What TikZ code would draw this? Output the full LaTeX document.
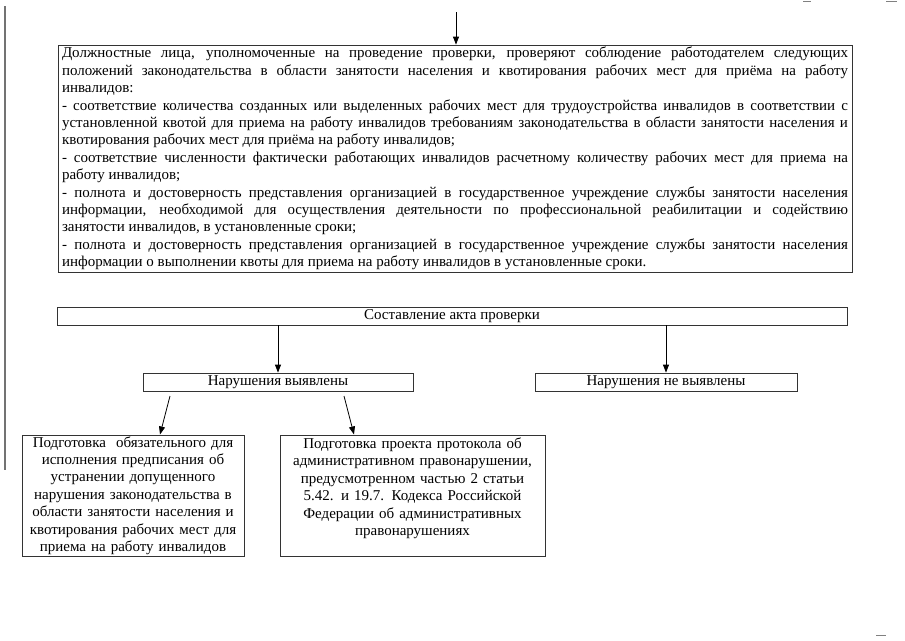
\documentclass[tikz,border=0pt]{standalone}
\usepackage{fontspec}
\setmainfont{Liberation Serif}
\usetikzlibrary{arrows.meta,calc}
\tikzset{
  box/.style={draw=black!80, line width=0.8pt, inner sep=0pt, font=\fontsize{15}{17.4}\selectfont},
  arr/.style={draw=black, line width=0.8pt, -{Triangle[length=8pt,width=6pt]}},
  scanmark/.style={draw=black!55, line width=1.6pt}
}
\begin{document}
\begin{tikzpicture}[x=1pt,y=-1pt]
\useasboundingbox (0,0) rectangle (905,640);
\fill[white] (0,0) rectangle (905,640);
% scan marks
\draw[scanmark] (5,6) -- (5,470);
\draw[draw=black!50, line width=1pt] (803,1) -- (811,1);
\draw[draw=black!50, line width=1pt] (886,1) -- (897,1);
\draw[draw=black!50, line width=1pt] (876,635) -- (886,635);

\node[box, minimum width=794pt, minimum height=227pt, text width=786pt, align=justify] (main) at (455,158.5) {%
\hyphenpenalty=10000\exhyphenpenalty=10000
Должностные лица, уполномоченные на проведение проверки, проверяют соблюдение работодателем следующих\linebreak
положений законодательства в области занятости населения и квотирования рабочих мест для приёма на работу\linebreak
инвалидов:\par
- соответствие количества созданных или выделенных  рабочих мест для трудоустройства инвалидов в соответствии с\linebreak
установленной квотой для приема на работу инвалидов требованиям законодательства в области занятости населения и\linebreak
квотирования рабочих мест для приёма на работу инвалидов;\par
- соответствие численности фактически работающих инвалидов расчетному количеству рабочих мест для приема на\linebreak
работу инвалидов;\par
- полнота и достоверность представления организацией в государственное учреждение службы занятости населения\linebreak
информации, необходимой для осуществления деятельности по профессиональной реабилитации и содействию\linebreak
занятости инвалидов, в установленные сроки;\par
- полнота и достоверность представления организацией в государственное учреждение службы занятости населения\linebreak
информации о выполнении квоты для приема на работу инвалидов в установленные сроки.};

\node[box, minimum width=790pt, minimum height=18pt] (act) at (452,316) {Составление акта проверки};

\node[box, minimum width=270pt, minimum height=18pt] (viol) at (278,382) {Нарушения выявлены};
\node[box, minimum width=262pt, minimum height=18pt] (noviol) at (666,382) {Нарушения не выявлены};

\node[box, minimum width=222pt, minimum height=121pt, text width=220pt, align=center] (order) at (133,495.5) {%
Подготовка\ \ обязательного для\\
исполнения предписания об\\
устранении допущенного\\
нарушения законодательства в\\
области занятости населения и\\
квотирования рабочих мест для\\
приема на работу инвалидов};

\node[box, minimum width=265pt, minimum height=121pt, text width=262pt, align=center] (protocol) at (412.5,495.5) {%
Подготовка проекта протокола об\\
административном правонарушении,\\
предусмотренном частью 2 статьи\\
5.42. и 19.7. Кодекса Российской\\
Федерации об административных\\
правонарушениях\\[-5pt]
\strut};

% connectors
\coordinate (topin) at (456,12);
\draw[arr] (topin) -- (topin |- main.north);
\draw[arr] (act.south -| viol.north) -- (viol.north);
\draw[arr] (act.south -| noviol.north) -- (noviol.north);
\coordinate (d1s) at (170,396);
\coordinate (d1e) at (160,434.5);
\coordinate (d2s) at (344,396);
\coordinate (d2e) at (354,434.5);
\draw[arr] (d1s) -- (d1e);
\draw[arr] (d2s) -- (d2e);
\end{tikzpicture}
\end{document}
